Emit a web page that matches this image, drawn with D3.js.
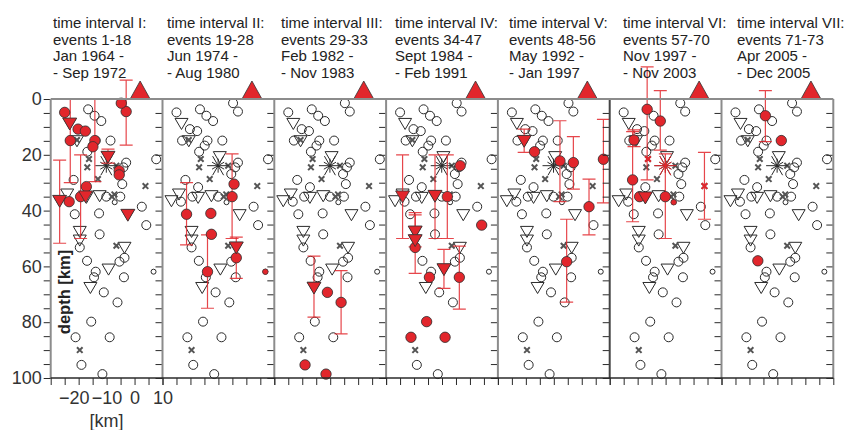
<!DOCTYPE html>
<html><head><meta charset="utf-8">
<script src="https://cdn.jsdelivr.net/npm/d3@7"></script>
<style>
body{margin:0;background:#fff}
svg{display:block;font-family:"Liberation Sans",Arial,sans-serif}
</style>
</head><body><div id="chart"></div>
<script>
const width = 845, height = 430

// panel titles, one per time interval
const titles = [
  ["time interval I:", "events 1-18", "Jan 1964 -", "- Sep 1972"],
  ["time interval II:", "events 19-28", "Jun 1974 -", "- Aug 1980"],
  ["time interval III:", "events 29-33", "Feb 1982 -", "- Nov 1983"],
  ["time interval IV:", "events 34-47", "Sept 1984 -", "- Feb 1991"],
  ["time interval V:", "events 48-56", "May 1992 -", "- Jan 1997"],
  ["time interval VI:", "events 57-70", "Nov 1997 -", "- Nov 2003"],
  ["time interval VII:", "events 71-73", "Apr 2005 -", "- Dec 2005"]
]

const xTicks = [-20, -10, 0, 10]
const depthTicks = [0, 20, 40, 60, 80, 100]
const volcanoKm = 2

// all events (grey background, same in every panel): [km, depth]
const bgCircles = [
  [-4.75, 1.5], [-3, 4.5], [-25, 4.8], [-16.6, 3.7], [-14.3, 6], [-11.9, 7.9],
  [-20.2, 10.8], [-17.6, 11.5], [-23, 14.9], [-13.9, 14.9], [-14.9, 16.7], [-8.6, 14.9],
  [-16.9, 18.9], [7.75, 21.6], [-3, 22.8], [-4, 24.5], [-5.4, 26.9], [-4.4, 30.5],
  [-21.8, 29], [-17.25, 31.6], [-23.4, 36.8], [-19.3, 35], [-10.1, 35], [-5.1, 35],
  [2.6, 38.6], [-21.4, 41.3], [-12.7, 41], [4.2, 45.2], [-12.5, 48.5], [-19.6, 53.2],
  [-3.6, 56.9], [-5.4, 58.3], [-17, 58], [-13.9, 61.9], [-14.5, 63.9], [-3.8, 63.9],
  [-11, 69.3], [-6.1, 72.9], [-15.5, 79.8], [-21.1, 85.4], [-8.9, 85.4], [-19, 95.3],
  [-11.5, 98.6]
]
const bgSmall = [[6.8, 61.9], [-7.1, 37]]
const bgTriangles = [
  [-23.2, 8.5], [-20.6, 14.7], [-9.5, 20.4], [-24.1, 33.8], [-26.8, 36.2], [-17.25, 35],
  [-12.5, 34.4], [-2.4, 41.2], [-19.6, 47.2], [-19.6, 50.3], [-3.6, 52.9], [-9.3, 60.7],
  [-15.8, 67.3]
]
const bgCrosses = [
  [-20.6, 14.7], [-16.3, 21.5], [-16.9, 24.5], [-6.5, 23.9], [-13.1, 28.7], [3.9, 31.2],
  [-8.1, 35], [-7.2, 34.2], [-6.5, 52.6], [-19.6, 90]
]
const bgStar = [-10.1, 23.9]

// events of each interval (red): type, km, depth, depth error lo/hi
const interval1 = [
  {t: "t", x: -26.8, d: 36.2, lo: 21.9, hi: 51.7},
  {t: "c", x: -23, d: 14.9, lo: 0, hi: 30},
  {t: "c", x: -19.3, d: 35, lo: 20, hi: 50},
  {t: "c", x: -14.2, d: 14.9, lo: 0, hi: 29.6},
  {t: "c", x: -3, d: 4.5, lo: -6.8, hi: 16.5},
  {t: "t", x: -9.5, d: 20.4, lo: 18, hi: 23},
  {t: "c", x: -25, d: 4.8}, {t: "c", x: -4.75, d: 1.5},
  {t: "c", x: -20.2, d: 10.8}, {t: "c", x: -17.6, d: 11.5},
  {t: "c", x: -14.9, d: 17.1}, {t: "c", x: -5.5, d: 25.7}, {t: "c", x: -5.5, d: 27.2},
  {t: "c", x: -17.25, d: 31.4}, {t: "c", x: -23.4, d: 36.8},
  {t: "t", x: -23.2, d: 8.5}, {t: "t", x: -17.5, d: 34.6}, {t: "t", x: -2.4, d: 41.2}
]
const interval2 = [
  {t: "c", x: -21.4, d: 41.3, lo: 30, hi: 52.3},
  {t: "c", x: -5.1, d: 35, lo: 19.7, hi: 50},
  {t: "c", x: -3.6, d: 56.9, lo: 49.5, hi: 64.3},
  {t: "c", x: -13.9, d: 61.9, lo: 48.7, hi: 75},
  {t: "c", x: -4.4, d: 30.5}, {t: "c", x: -12.7, d: 41}, {t: "c", x: -12.5, d: 48.5},
  {t: "s", x: 6.8, d: 61.9}, {t: "t", x: -3.6, d: 52.9}
]
const interval3 = [
  {t: "t", x: -15.8, d: 67.3, lo: 56.3, hi: 78.2},
  {t: "c", x: -6.1, d: 72.9, lo: 61.5, hi: 84.2},
  {t: "c", x: -11, d: 69.3}, {t: "c", x: -19, d: 95.3}, {t: "c", x: -11.5, d: 98.6}
]
const interval4 = [
  {t: "t", x: -24.1, d: 34.6, lo: 20, hi: 50},
  {t: "t", x: -12.5, d: 34.4, lo: 20, hi: 50},
  {t: "c", x: -8.1, d: 35, lo: 20, hi: 50},
  {t: "t", x: -19.6, d: 47.2, lo: 40.7, hi: 53},
  {t: "c", x: -19.6, d: 53.2, lo: 41.5, hi: 62.5},
  {t: "t", x: -9.3, d: 60.7, lo: 53.9, hi: 67.9},
  {t: "c", x: -3.8, d: 63.9, lo: 52.7, hi: 75.3},
  {t: "t", x: -19.6, d: 50.3},
  {t: "c", x: -3.5, d: 23.9}, {t: "c", x: 4.2, d: 45.2}, {t: "c", x: -14.5, d: 63.9},
  {t: "c", x: -15.5, d: 79.8}, {t: "c", x: -21.1, d: 85.4}, {t: "c", x: -8.9, d: 85.4}
]
const interval5 = [
  {t: "t", x: -20.6, d: 14.7, lo: 10.8, hi: 19.1},
  {t: "c", x: -7.8, d: 22.2, lo: 7.8, hi: 36.8},
  {t: "c", x: -3, d: 22.8, lo: 13.5, hi: 32.3},
  {t: "c", x: 7.75, d: 21.6, lo: 7.3, hi: 37.2},
  {t: "c", x: 2.6, d: 38.6, lo: 28.7, hi: 48.7},
  {t: "c", x: -5.4, d: 58.3, lo: 43.1, hi: 72.8},
  {t: "c", x: -16.9, d: 18.9}
]
const interval6 = [
  {t: "c", x: -16.6, d: 3.7, lo: -11.5, hi: 29},
  {t: "c", x: -11.9, d: 7.9, lo: -3, hi: 18.3},
  {t: "c", x: -21.8, d: 29, lo: 11.7, hi: 44},
  {t: "c", x: -10.1, d: 35, lo: 19.7, hi: 50},
  {t: "x", x: 3.9, d: 31.2, lo: 19.1, hi: 43.1},
  {t: "c", x: -21.3, d: 14.7, lo: 11.1, hi: 17.1},
  {t: "x", x: -16.3, d: 21.5}, {t: "star", x: -10.1, d: 23.9},
  {t: "c", x: -19.3, d: 35}, {t: "t", x: -17.25, d: 35}, {t: "s", x: -7.1, d: 37}
]
const interval7 = [
  {t: "c", x: -14.3, d: 6, lo: -3, hi: 15.3},
  {t: "c", x: -8.6, d: 14.9}, {t: "c", x: -17, d: 58}
]
const intervals = [interval1, interval2, interval3, interval4, interval5, interval6, interval7]

// layout
const left0 = 50.7, panelW = 111.8, yTop = 99, yBottom = 378
const red = "#e2262c", ink = "#2a2a2a", frame = "#8c8c8c"

const svg = d3.select("#chart").append("svg")
  .attr("width", width).attr("height", height)

const x = d3.scaleLinear().domain([-30, 10]).range([0, panelW])
const y = d3.scaleLinear().domain([0, 100]).range([yTop, yBottom])

function tri(px, py, w) {
  return `M${px - w / 2},${py - w * 0.33}L${px + w / 2},${py - w * 0.33}L${px},${py + w * 0.52}Z`
}

function cross(g, px, py, color) {
  g.append("path")
    .attr("d", `M${px - 2.8},${py - 2.8}L${px + 2.8},${py + 2.8}M${px - 2.8},${py + 2.8}L${px + 2.8},${py - 2.8}`)
    .attr("stroke", color).attr("stroke-width", 2).attr("fill", "none")
}

function star(g, px, py, color) {
  const rays = d3.range(12).map(k => {
    const a = k * Math.PI / 6, r = k % 2 ? 7 : 11
    return `M${px},${py}L${px + r * Math.cos(a)},${py + r * Math.sin(a)}`
  }).join("")
  g.append("path").attr("d", rays).attr("stroke", color).attr("stroke-width", 1).attr("fill", "none")
}

function depthTicksAt(g) {
  g.append("g").call(d3.axisLeft(y).tickValues(d3.range(0, 101, 5)).tickSize(7).tickFormat(""))
    .call(a => a.select(".domain").remove())
    .selectAll("line").attr("stroke", ink)
}

titles.forEach(function (lines, i) {
  const left = left0 + i * panelW
  const g = svg.append("g").attr("transform", "translate(" + left + ",0)")

  // background events
  bgTriangles.forEach(p => g.append("path").attr("d", tri(x(p[0]), y(p[1]), 13))
    .attr("fill", "none").attr("stroke", ink).attr("stroke-width", 1))
  bgCircles.forEach(p => g.append("circle").attr("cx", x(p[0])).attr("cy", y(p[1])).attr("r", 4.5)
    .attr("fill", "none").attr("stroke", ink).attr("stroke-width", 1))
  bgSmall.forEach(p => g.append("circle").attr("cx", x(p[0])).attr("cy", y(p[1])).attr("r", 2.5)
    .attr("fill", "none").attr("stroke", ink).attr("stroke-width", 1))
  bgCrosses.forEach(p => cross(g, x(p[0]), y(p[1]), "#555"))
  star(g, x(bgStar[0]), y(bgStar[1]), ink)

  // error bars of this interval
  const ev = intervals[i]
  ev.filter(e => e.lo != null).forEach(function (e) {
    const px = x(e.x)
    g.append("path")
      .attr("d", `M${px},${y(e.lo)}V${y(e.hi)}M${px - 6.5},${y(e.lo)}H${px + 6.5}M${px - 6.5},${y(e.hi)}H${px + 6.5}`)
      .attr("stroke", red).attr("stroke-opacity", 0.85).attr("stroke-width", 1.2).attr("fill", "none")
  })

  // events of this interval
  ev.forEach(function (e) {
    const px = x(e.x), py = y(e.d)
    if (e.t === "c") g.append("circle").attr("cx", px).attr("cy", py).attr("r", 5.2)
      .attr("fill", red).attr("stroke", "#333").attr("stroke-width", 0.8)
    else if (e.t === "s") g.append("circle").attr("cx", px).attr("cy", py).attr("r", 2.8)
      .attr("fill", red).attr("stroke", "#333").attr("stroke-width", 0.6)
    else if (e.t === "t") g.append("path").attr("d", tri(px, py, 14))
      .attr("fill", red).attr("stroke", "#333").attr("stroke-width", 0.8)
    else if (e.t === "x") cross(g, px, py, red)
    else if (e.t === "star") star(g, px, py, red)
  })

  // volcano
  const vx = x(volcanoKm)
  g.append("path").attr("d", `M${vx - 10},${yTop}L${vx + 10},${yTop}L${vx},${yTop - 18}Z`)
    .attr("fill", red).attr("stroke", "#333").attr("stroke-width", 0.8)

  // depth ticks on the left border
  depthTicksAt(g)
  g.append("line").attr("x1", 0).attr("x2", 0).attr("y1", yTop).attr("y2", yBottom)
    .attr("stroke", i === 5 ? "#444" : frame).attr("stroke-width", 2)

  // bottom ticks
  g.append("g").attr("transform", "translate(0," + yBottom + ")")
    .call(d3.axisBottom(x).tickValues(d3.range(-30, 11, 5)).tickSize(7).tickFormat(""))
    .call(a => a.select(".domain").remove())
    .selectAll("line").attr("stroke", ink)

  // title
  const t = svg.append("text").attr("x", 53 + i * 114).attr("y", 28)
    .attr("font-size", 15).attr("fill", "#222")
  lines.forEach((s, k) => t.append("tspan").attr("x", 53 + i * 114).attr("dy", k ? 16.7 : 0).text(s))
})

// closing right border, top and bottom frame
const right = left0 + 7 * panelW
depthTicksAt(svg.append("g").attr("transform", "translate(" + right + ",0)"))
svg.append("line").attr("x1", right).attr("x2", right).attr("y1", yTop).attr("y2", yBottom)
  .attr("stroke", frame).attr("stroke-width", 2)
svg.append("line").attr("x1", left0).attr("x2", right).attr("y1", yTop).attr("y2", yTop)
  .attr("stroke", frame).attr("stroke-width", 2)
svg.append("line").attr("x1", left0).attr("x2", right).attr("y1", yBottom).attr("y2", yBottom)
  .attr("stroke", ink).attr("stroke-width", 1.5)

// depth labels
svg.append("g").attr("transform", "translate(" + left0 + ",0)")
  .call(d3.axisLeft(y).tickValues(depthTicks).tickSize(0).tickPadding(9))
  .call(a => a.select(".domain").remove())
  .selectAll("text").attr("font-size", 18).attr("fill", "#333").attr("font-family", "Liberation Sans, Arial, sans-serif")

// km labels for the first panel
svg.append("g").attr("transform", "translate(" + left0 + "," + yBottom + ")")
  .call(d3.axisBottom(x).tickValues(xTicks).tickSize(0).tickPadding(13))
  .call(a => a.select(".domain").remove())
  .selectAll("text").attr("font-size", 18).attr("fill", "#333").attr("font-family", "Liberation Sans, Arial, sans-serif")
  .attr("dx", d => d === -20 ? -5 : 0)

svg.append("text").attr("x", left0 + x(-10)).attr("y", 427).attr("text-anchor", "middle")
  .attr("font-size", 18).attr("fill", "#333").text("[km]")

svg.append("text").attr("transform", "translate(70,292) rotate(-90)").attr("text-anchor", "middle")
  .attr("font-size", 16.5).attr("font-weight", "bold").attr("fill", "#222").text("depth [km]")
</script></body></html>
